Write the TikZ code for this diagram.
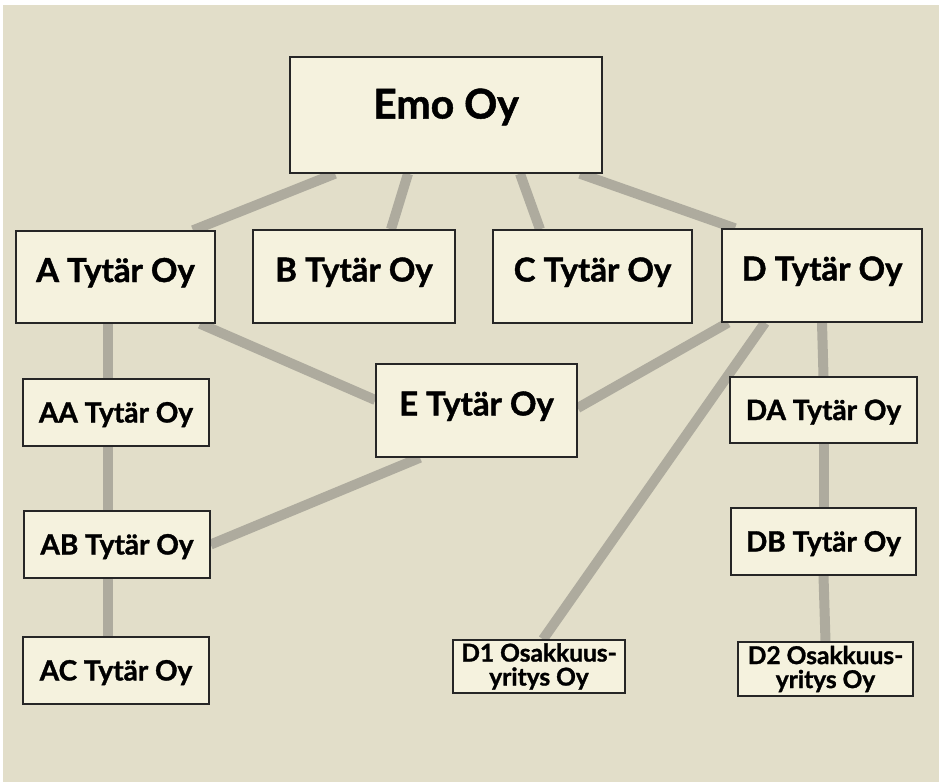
\documentclass[tikz,border=0pt]{standalone}
\usepackage{fontspec}
\setmainfont{Lato}[BoldFeatures={FakeBold=1.2}]
\usetikzlibrary{positioning,calc,backgrounds}
\definecolor{panel}{RGB}{226,222,201}
\definecolor{boxfill}{RGB}{245,242,222}
\definecolor{linkgrey}{RGB}{174,171,158}

\begin{document}
\begin{tikzpicture}[x=1pt,y=-1pt,
    firmbox/.style={draw=black!85,line width=1.4pt,fill=boxfill,inner sep=0pt},
    firm/.style={firmbox,font=\fontsize{33}{37}\selectfont\bfseries,text height=24pt,text depth=14pt},
    parent/.style={firmbox,font=\fontsize{41}{46}\selectfont\bfseries,text height=30pt,text depth=23pt},
    subfirm/.style={firmbox,font=\fontsize{28}{32}\selectfont\bfseries,text height=20pt,text depth=0pt},
    assoc/.style={firmbox,font=\fontsize{24.5}{24}\selectfont\bfseries,align=center},
    link/.style={draw=linkgrey,line width=10pt}]
    \useasboundingbox (0,0) rectangle (943,782);
    \begin{scope}[on background layer]
      \fill[white] (0,0) rectangle (943,782);
      \fill[panel] (3,5) rectangle (939,782);
    \end{scope}

    % parent company
    \node[parent,minimum width=312pt,minimum height=116pt] (emo) at (446,115) {Emo Oy};

    % subsidiaries
    \node[firm,minimum width=199pt,minimum height=92pt] (A) at (115.5,277) {A Tytär Oy};
    \node[firm,minimum width=202pt,minimum height=93pt] (B) at (354,276.5) {B Tytär Oy};
    \node[firm,minimum width=199pt,minimum height=93pt] (C) at (592.5,276.5) {C Tytär Oy};
    \node[firm,minimum width=200pt,minimum height=93pt] (D) at (822,275.5) {D Tytär Oy};
    \node[firm,minimum width=201pt,minimum height=93pt] (E) at (476.5,410.5) {E Tytär Oy};

    \node[subfirm,minimum width=186pt,minimum height=67pt] (AA) at (116,412.5) {AA Tytär Oy};
    \node[subfirm,minimum width=186pt,minimum height=67pt] (AB) at (117,544.5) {AB Tytär Oy};
    \node[subfirm,minimum width=186pt,minimum height=67pt] (AC) at (116,670.5) {AC Tytär Oy};
    \node[subfirm,minimum width=187pt,minimum height=66pt] (DA) at (823.5,410) {DA Tytär Oy};
    \node[subfirm,minimum width=185pt,minimum height=67pt] (DB) at (823.5,541.5) {DB Tytär Oy};

    % associated companies
    \node[assoc,minimum width=172pt,minimum height=53pt] (D1) at (539,666.5) {D1 Osakkuus-\\yritys Oy};
    \node[assoc,minimum width=175pt,minimum height=54pt] (D2) at (825.5,669) {D2 Osakkuus-\\yritys Oy};

    \begin{scope}[on background layer]
      \draw[link] ($(emo.south)+(-111,0)$) -- ($(A.north)+(77.5,0)$);
      \draw[link] ($(emo.south)+(-38,0)$) -- ($(B.north)+(37,0)$);
      \draw[link] ($(emo.south)+(74,0)$) -- ($(C.north)+(-52.5,0)$);
      \draw[link] ($(emo.south)+(134,0)$) -- ($(D.north)+(-87,0)$);
      \draw[link] ($(A.south)+(84.5,0)$) -- ($(E.west)+(0,-10.5)$);
      \draw[link] (AB.east) -- ($(E.south)+(-56.5,0)$);
      \draw[link] ($(D.south)+(-94,0)$) -- ($(E.east)+(0,-2.5)$);
      \draw[link] ($(D.south)+(-57,0)$) -- ($(D1.north)+(4,0)$);
      \draw[link] ($(A.south)+(-7.5,0)$) -- ($(AA.north)+(-8,0)$);
      \draw[link] ($(AA.south)+(-8,0)$) -- ($(AB.north)+(-9,0)$);
      \draw[link] ($(AB.south)+(-9,0)$) -- ($(AC.north)+(-8,0)$);
      \draw[link] (D.south) -- (DA.north);
      \draw[link] (DA.south) -- (DB.north);
      \draw[link] (DB.south) -- (D2.north);
    \end{scope}
  \end{tikzpicture}
\end{document}
